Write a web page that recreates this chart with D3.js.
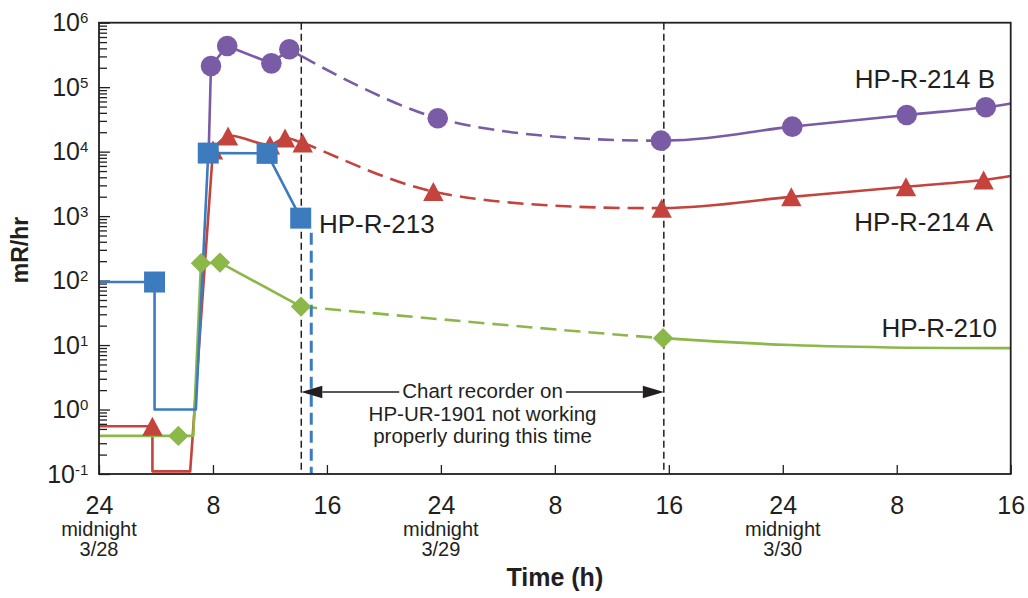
<!DOCTYPE html>
<html>
<head>
<meta charset="utf-8">
<script src="https://cdn.jsdelivr.net/npm/d3@7"></script>
<style>
  html, body { margin: 0; padding: 0; background: #fff; }
  svg { display: block; }
  svg text { font-family: "Liberation Sans", Arial, Helvetica, sans-serif; }
</style>
</head>
<body>
<svg id="chart" width="1028" height="598"></svg>
<script>
// Time axis: hours elapsed since midnight 3/28
const hourTicks = [0, 8, 16, 24, 32, 40, 48, 56, 64];
const hourTickLabels = ["24", "8", "16", "24", "8", "16", "24", "8", "16"];
const midnightHours = [0, 24, 48];
const midnightDates = ["3/28", "3/29", "3/30"];
const decadeExponents = [-1, 0, 1, 2, 3, 4, 5, 6];

// Period when the chart recorder on HP-UR-1901 was not working (h)
const outageStart = 14.2;
const outageEnd = 39.65;

// HP-R-213 drop-off after the last reading
const drop213Hour = 14.9;
const drop213Top = 550;

// HP-R-214 B (mR/hr)
const b214Hours  = [7.7, 7.86, 9.0, 12.1, 13.36, 23.78, 39.45, 48.67, 56.7, 62.25, 64];
const b214Values = [1.0e4, 2.13e5, 4.36e5, 2.34e5, 3.87e5, 3.3e4, 1.48e4, 2.44e4, 3.7e4, 4.88e4, 5.6e4];
const b214Marked = [0, 1, 1, 1, 1, 1, 1, 1, 1, 1, 0];

// HP-R-214 A (mR/hr)
const a214Hours  = [0, 3.75, 3.75, 6.4, 8.0, 9.06, 12.0, 13.06, 14.3, 23.47, 39.5, 48.6, 56.65, 62.1, 64];
const a214Values = [0.55, 0.55, 0.11, 0.11, 1.06e4, 1.75e4, 1.27e4, 1.63e4, 1.36e4, 2.4e3, 1.33e3, 1.99e3, 2.86e3, 3.64e3, 4.2e3];
const a214Marked = [0, 1, 0, 0, 1, 1, 1, 1, 1, 1, 1, 1, 1, 1, 0];

// HP-R-213 (mR/hr)
const r213Hours  = [0, 3.9, 3.9, 6.8, 7.67, 11.8, 14.16];
const r213Values = [95, 95, 1.0, 1.0, 9.5e3, 9.4e3, 930];
const r213Marked = [0, 1, 0, 0, 1, 1, 1];

// HP-R-210 (mR/hr)
const r210Hours  = [0, 5.57, 6.62, 7.16, 8.49, 14.18, 39.6, 48.6, 56.7, 64];
const r210Values = [0.39, 0.39, 0.39, 186, 190, 39.5, 12.8, 10.0, 9.1, 8.95];
const r210Marked = [0, 1, 0, 1, 1, 1, 1, 0, 0, 0];

const INK = "#231f20";
const FONT = '"Liberation Sans", Arial, Helvetica, sans-serif';

const series = [
  { name: "HP-R-214 B", hours: b214Hours, values: b214Values, marked: b214Marked,
    color: "#7a5ba5", symbol: "circle", curveFrom: 4 },
  { name: "HP-R-214 A", hours: a214Hours, values: a214Values, marked: a214Marked,
    color: "#c4433d", symbol: "triangle", curveFrom: 4 },
  { name: "HP-R-210", hours: r210Hours, values: r210Values, marked: r210Marked,
    color: "#8cb749", symbol: "diamond", curveFrom: 5 },
  { name: "HP-R-213", hours: r213Hours, values: r213Values, marked: r213Marked,
    color: "#3d7bbf", symbol: "square", curveFrom: null }
];

const labels = [
  { text: "HP-R-214 B", x: 995, y: 88, anchor: "end" },
  { text: "HP-R-214 A", x: 993, y: 231, anchor: "end" },
  { text: "HP-R-210",   x: 997, y: 337, anchor: "end" },
  { text: "HP-R-213",   x: 319, y: 233, anchor: "start" }
];

const plot = { left: 99, right: 1010.7, top: 22.7, bottom: 474 };

const svg = d3.select("#chart");
const x = d3.scaleLinear().domain([0, 64]).range([plot.left, plot.right]);
const y = d3.scaleLog().domain([0.1, 1e6]).range([plot.bottom, plot.top]);

const defs = svg.append("defs");
const xa = x(outageStart), xb = x(outageEnd);
defs.append("clipPath").attr("id", "clip-solid")
  .selectAll("rect")
  .data([[plot.left, xa], [xb, plot.right]])
  .join("rect")
  .attr("x", d => d[0]).attr("y", plot.top)
  .attr("width", d => d[1] - d[0]).attr("height", plot.bottom - plot.top);
defs.append("clipPath").attr("id", "clip-dash")
  .append("rect")
  .attr("x", xa).attr("y", plot.top)
  .attr("width", xb - xa).attr("height", plot.bottom - plot.top);

// ---- axes ----
const minorTicks = [];
decadeExponents.slice(0, -1).forEach(e => {
  for (let j = 2; j <= 9; j++) minorTicks.push(j * Math.pow(10, e));
});

svg.append("g")
  .attr("transform", `translate(${plot.left},0)`)
  .call(d3.axisLeft(y).tickValues(minorTicks).tickSize(-8).tickFormat(""))
  .call(g => g.select(".domain").remove())
  .call(g => g.selectAll("line").attr("stroke", INK).attr("stroke-width", 1.3));

const yMajor = svg.append("g")
  .attr("transform", `translate(${plot.left},0)`)
  .call(d3.axisLeft(y)
    .tickValues(decadeExponents.map(e => Math.pow(10, e)))
    .tickSize(-11).tickPadding(10.7).tickFormat(""))
  .attr("font-family", FONT).attr("font-size", 25)
  .call(g => g.select(".domain").remove())
  .call(g => g.selectAll("line").attr("stroke", INK).attr("stroke-width", 1.3));

yMajor.selectAll(".tick text")
  .attr("fill", INK)
  .each(function (d, i) {
    const t = d3.select(this);
    t.text(null);
    t.append("tspan").text("10");
    t.append("tspan").attr("font-size", 15).attr("dy", -8).text(String(decadeExponents[i]));
  });

svg.append("g")
  .attr("transform", `translate(0,${plot.bottom})`)
  .call(d3.axisBottom(x).tickValues(hourTicks).tickSize(-9).tickPadding(22.5)
    .tickFormat((d, i) => hourTickLabels[i]))
  .attr("font-family", FONT).attr("font-size", 25)
  .call(g => g.select(".domain").remove())
  .call(g => g.selectAll("line").attr("stroke", INK).attr("stroke-width", 1.3))
  .call(g => g.selectAll("text").attr("fill", INK));

const dayG = svg.append("g").attr("fill", INK).attr("font-size", 20).attr("text-anchor", "middle");
midnightHours.forEach((h, i) => {
  dayG.append("text").attr("x", x(h)).attr("y", 536).text("midnight");
  dayG.append("text").attr("x", x(h)).attr("y", 556).text(midnightDates[i]);
});

svg.append("text")
  .attr("x", x(32)).attr("y", 586)
  .attr("text-anchor", "middle").attr("font-size", 25).attr("font-weight", "bold")
  .attr("fill", INK).text("Time (h)");

svg.append("text")
  .attr("transform", "translate(28,250) rotate(-90)")
  .attr("text-anchor", "middle").attr("font-size", 23).attr("font-weight", "bold")
  .attr("fill", INK).text("mR/hr");

// ---- outage boundaries ----
svg.append("g").selectAll("line")
  .data([outageStart, outageEnd])
  .join("line")
  .attr("x1", d => x(d)).attr("x2", d => x(d))
  .attr("y1", plot.top).attr("y2", plot.bottom)
  .attr("stroke", INK).attr("stroke-width", 1.5).attr("stroke-dasharray", "7,4");

// ---- series lines ----
const lineStraight = d3.line().x(d => x(d.h)).y(d => y(d.v));
const lineSmooth = d3.line().x(d => x(d.h)).y(d => y(d.v)).curve(d3.curveCatmullRom.alpha(0.5));

const pointsOf = s => s.hours.map((h, i) => ({ h, v: s.values[i], m: s.marked[i] }));

const lineLayer = svg.append("g").attr("fill", "none");
series.forEach(s => {
  const pts = pointsOf(s);
  const straightPts = s.curveFrom == null ? pts : pts.slice(0, s.curveFrom + 1);
  const g = lineLayer.append("g").attr("stroke", s.color).attr("stroke-width", 2.6)
    .attr("stroke-linejoin", "round");
  g.append("path").attr("clip-path", "url(#clip-solid)").attr("d", lineStraight(straightPts));
  if (s.curveFrom != null) {
    const curvePts = pts.slice(s.curveFrom);
    const dStr = lineSmooth(curvePts);
    g.append("path").attr("clip-path", "url(#clip-solid)").attr("d", dStr);
    const dashed = g.append("path").attr("clip-path", "url(#clip-dash)").attr("d", dStr)
      .attr("stroke-dasharray", "16,8");
    // start the dash pattern where the path enters the outage window
    const node = dashed.node();
    const total = node.getTotalLength();
    let lo = 0, hi = total;
    for (let k = 0; k < 40; k++) {
      const mid = (lo + hi) / 2;
      if (node.getPointAtLength(mid).x < xa) lo = mid; else hi = mid;
    }
    dashed.attr("stroke-dashoffset", -lo);
  }
});

// HP-R-213 drop below range
svg.append("line")
  .attr("x1", x(drop213Hour)).attr("x2", x(drop213Hour))
  .attr("y1", y(drop213Top)).attr("y2", plot.bottom)
  .attr("stroke", "#3d7bbf").attr("stroke-width", 3).attr("stroke-dasharray", "12,6");

// ---- markers ----
const symbolPath = {
  circle: "M10.3,0A10.3,10.3 0 1,1 -10.3,0A10.3,10.3 0 1,1 10.3,0Z",
  square: "M-10.5,-10.5H10.5V10.5H-10.5Z",
  triangle: "M0,-9.5L10.2,9.5L-10.2,9.5Z",
  diamond: "M0,-10.2L10.2,0L0,10.2L-10.2,0Z"
};
const markerLayer = svg.append("g");
series.forEach(s => {
  markerLayer.append("g").attr("fill", s.color)
    .selectAll("path")
    .data(pointsOf(s).filter(d => d.m))
    .join("path")
    .attr("transform", d => `translate(${x(d.h)},${y(d.v)})`)
    .attr("d", symbolPath[s.symbol]);
});

// ---- series labels ----
svg.append("g").attr("font-size", 26).attr("fill", INK)
  .selectAll("text").data(labels).join("text")
  .attr("x", d => d.x).attr("y", d => d.y).attr("text-anchor", d => d.anchor)
  .text(d => d.text);

// ---- outage annotation ----
const ann = svg.append("g").attr("fill", INK).attr("font-size", 20.5).attr("text-anchor", "middle");
const cx = (xa + xb) / 2;
const arrowY = 392;
const head = 21, halfH = 6.3;
const first = ann.append("text").attr("x", cx).attr("y", 398).text("Chart recorder on");
ann.append("text").attr("x", cx).attr("y", 420.5).text("HP-UR-1901 not working");
ann.append("text").attr("x", cx).attr("y", 442.5).text("properly during this time");
const tw = first.node().getComputedTextLength();
ann.append("line").attr("x1", xa + head).attr("x2", cx - tw / 2 - 3)
  .attr("y1", arrowY).attr("y2", arrowY).attr("stroke", INK).attr("stroke-width", 1.4);
ann.append("line").attr("x1", cx + tw / 2 + 3).attr("x2", xb - head)
  .attr("y1", arrowY).attr("y2", arrowY).attr("stroke", INK).attr("stroke-width", 1.4);
ann.append("path").attr("d", `M${xa},${arrowY}L${xa + head},${arrowY - halfH}L${xa + head},${arrowY + halfH}Z`);
ann.append("path").attr("d", `M${xb},${arrowY}L${xb - head},${arrowY - halfH}L${xb - head},${arrowY + halfH}Z`);

// ---- frame ----
svg.append("rect")
  .attr("x", plot.left).attr("y", plot.top)
  .attr("width", plot.right - plot.left).attr("height", plot.bottom - plot.top)
  .attr("fill", "none").attr("stroke", INK).attr("stroke-width", 1.8);
</script>
</body>
</html>
